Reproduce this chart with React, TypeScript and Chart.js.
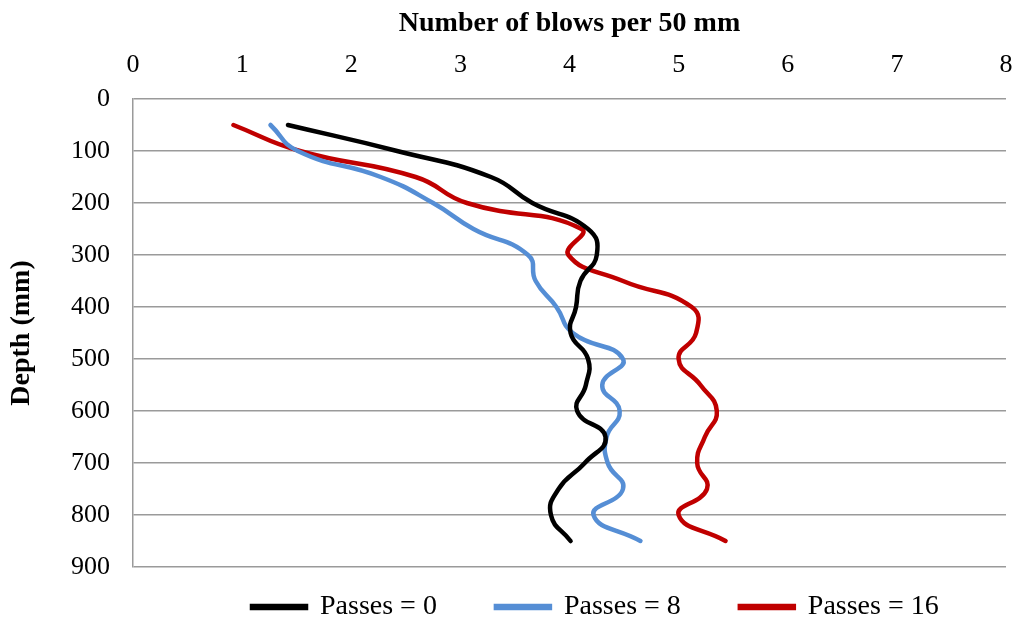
import React, { useEffect, useRef } from "react";
import { Chart, registerables } from "chart.js";

Chart.register(...registerables);

const depths = [50, 100, 150, 200, 250, 300, 350, 400, 450, 500, 550, 600, 650, 700, 750, 800, 850];
const passes0 = [1.42, 2.42, 3.28, 3.66, 4.17, 4.25, 4.10, 4.06, 4.01, 4.17, 4.15, 4.07, 4.33, 4.14, 3.90, 3.83, 4.01];
const passes8 = [1.26, 1.51, 2.27, 2.75, 3.12, 3.62, 3.69, 3.88, 4.03, 4.49, 4.30, 4.46, 4.34, 4.35, 4.49, 4.22, 4.65];
const passes16 = [0.92, 1.53, 2.59, 3.06, 4.11, 3.99, 4.49, 5.12, 5.16, 5.00, 5.20, 5.35, 5.24, 5.17, 5.26, 5.00, 5.43];
const seriesLabels = ["Passes = 0", "Passes = 8", "Passes = 16"];
const seriesColors = ["#000000", "#558ED5", "#C00000"];
const xTitle = "Number of blows per 50 mm";
const yTitle = "Depth (mm)";

const FONT = "'Liberation Serif', 'Times New Roman', serif";

export default function App() {
  const ref = useRef<HTMLCanvasElement | null>(null);

  useEffect(() => {
    const canvas = ref.current;
    if (!canvas) return;
    const series = [passes0, passes8, passes16];
    const datasets = series.map((vals, i) => ({
      label: seriesLabels[i],
      data: vals.map((v, j) => ({ x: v, y: depths[j] })),
      showLine: true,
      borderColor: seriesColors[i],
      backgroundColor: seriesColors[i],
      borderWidth: 4.5,
      borderCapStyle: "round" as const,
      pointRadius: 0,
      pointHoverRadius: 0,
      tension: 0.5,
    }));

    const legendPad = 59;
    const legendShift = {
      id: "legendShift",
      afterLayout(chart: any) {
        const lg = chart.legend;
        if (!lg) return;
        lg.left = 252 - legendPad;
        lg.right = 1016;
        lg.width = lg.right - lg.left;
        lg.top = 607 - 14 - legendPad;
        lg.bottom = 625;
        lg.height = lg.bottom - lg.top;
      },
    };

    const chart = new Chart(canvas, {
      type: "scatter",
      data: { datasets },
      plugins: [legendShift],
      options: {
        animation: false,
        responsive: false,
        layout: { padding: { left: 0, right: 10, top: 0, bottom: 0 } },
        plugins: {
          tooltip: { enabled: false },
          legend: {
            display: true,
            position: "bottom",
            align: "start",
            maxHeight: 58,
            labels: {
              boxWidth: 54,
              boxHeight: 2,
              padding: legendPad,
              color: "#000000",
              font: { family: FONT, size: 28 },
            },
          },
        },
        scales: {
          x: {
            type: "linear",
            position: "top",
            min: 0,
            max: 8,
            ticks: {
              stepSize: 1,
              padding: 18,
              color: "#000000",
              font: { family: FONT, size: 26 },
            },
            grid: { display: false, drawTicks: false },
            border: { display: false },
            title: {
              display: true,
              text: xTitle,
              color: "#000000",
              font: { family: FONT, size: 28, weight: "bold" },
              padding: { top: 7, bottom: 0 },
            },
            afterFit(scale: any) {
              scale.height = 99;
              scale.paddingLeft = 0;
              scale.paddingRight = 0;
            },
          },
          y: {
            type: "linear",
            position: "left",
            reverse: true,
            min: 0,
            max: 900,
            ticks: {
              stepSize: 100,
              padding: 23,
              color: "#000000",
              font: { family: FONT, size: 26 },
            },
            grid: { display: true, drawTicks: false, color: "#9a9a9a", lineWidth: 1.5 },
            border: { display: true, color: "#9a9a9a", width: 1.5 },
            title: {
              display: true,
              text: yTitle,
              color: "#000000",
              font: { family: FONT, size: 28, weight: "bold" },
              padding: { top: 5, bottom: 0 },
            },
            afterFit(scale: any) {
              scale.width = 133;
              scale.paddingTop = 0;
              scale.paddingBottom = 0;
            },
          },
        },
      },
    });
    return () => chart.destroy();
  }, []);

  return (
    <div style={{ position: "absolute", left: 0, top: 0, width: 1016, height: 625, background: "#ffffff" }}>
      <canvas ref={ref} width={1016} height={625} style={{ display: "block" }} />
    </div>
  );
}
